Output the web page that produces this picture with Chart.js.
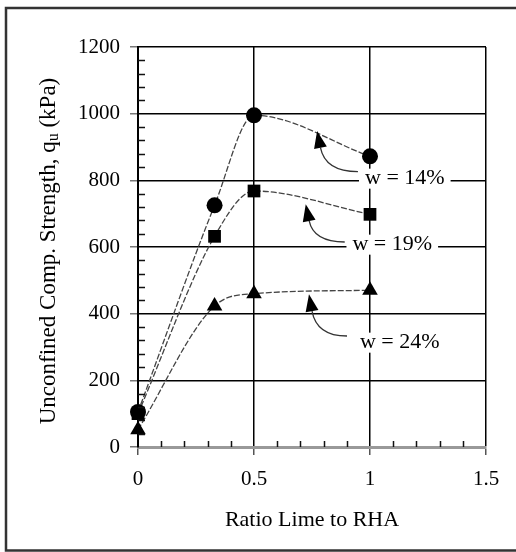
<!DOCTYPE html>
<html>
<head>
<meta charset="utf-8">
<script src="https://cdn.jsdelivr.net/npm/chart.js@4.4.1/dist/chart.umd.min.js"></script>
<style>
  html, body { margin: 0; padding: 0; background: #fff; }
  #wrap { width: 516px; height: 552px; }
</style>
</head>
<body>
<div id="wrap"><canvas id="chart" width="516" height="552"></canvas></div>
<script>
// values
const ratio = [0, 0.33, 0.5, 1];
const w14 = [105, 725, 995, 872];
const w19 = [100, 632, 768, 698];
const w24 = [52, 423, 460, 470];
const xTicks = [0, 0.5, 1, 1.5];
const yTicks = [0, 200, 400, 600, 800, 1000, 1200];

// callouts (data units)
const calloutText = ['w = 14%', 'w = 19%', 'w = 24%'];
const calloutAt = [[1.15, 805], [1.096, 607], [1.128, 313]];
const arrowTail = [[0.948, 826], [0.891, 615], [0.901, 333]];
const arrowTip = [[0.772, 948], [0.723, 728], [0.737, 458]];

const serif = "'Liberation Serif', 'Times New Roman', serif";

function pts(ys) {
  return ratio.map((x, i) => ({ x: x, y: ys[i] }));
}

function series(label, ys, style, r) {
  return {
    label: label,
    data: pts(ys),
    borderColor: '#444',
    borderWidth: 1.3,
    borderDash: [6, 2],
    cubicInterpolationMode: 'monotone',
    pointStyle: style,
    pointRadius: r,
    pointBackgroundColor: '#000',
    pointBorderColor: '#000',
    pointBorderWidth: 0,
    clip: false
  };
}

const decor = {
  id: 'decor',
  afterDraw(chart) {
    const ctx = chart.ctx;
    const xs = chart.scales.x, ys = chart.scales.y;
    const a = chart.chartArea;
    ctx.save();

    // minor ticks, pointing inward
    ctx.strokeStyle = '#111';
    ctx.lineWidth = 1.5;
    ctx.beginPath();
    for (let v = 40; v < 1200; v += 40) {
      if (v % 200 === 0) continue;
      const py = Math.round(ys.getPixelForValue(v)) + 0.5;
      ctx.moveTo(a.left, py);
      ctx.lineTo(a.left + 7, py);
    }
    for (let k = 1; k < 15; k++) {
      if (k % 5 === 0) continue;
      const px = Math.round(xs.getPixelForValue(k / 10)) + 0.5;
      ctx.moveTo(px, a.bottom);
      ctx.lineTo(px, a.bottom - 6);
    }
    ctx.stroke();

    // callout arrows
    ctx.strokeStyle = '#333';
    ctx.fillStyle = '#000';
    ctx.lineWidth = 1.3;
    for (let i = 0; i < calloutText.length; i++) {
      const tx = xs.getPixelForValue(arrowTail[i][0]), ty = ys.getPixelForValue(arrowTail[i][1]);
      const hx = xs.getPixelForValue(arrowTip[i][0]), hy = ys.getPixelForValue(arrowTip[i][1]);
      const cx = hx + (tx - hx) * 0.2, cy = ty;
      const ang = Math.atan2(hy - cy, hx - cx);
      const len = 17, half = 6.5;
      const bx = hx - len * Math.cos(ang), by = hy - len * Math.sin(ang);
      ctx.beginPath();
      ctx.moveTo(tx, ty);
      ctx.quadraticCurveTo(cx, cy, bx, by);
      ctx.stroke();
      ctx.beginPath();
      ctx.moveTo(hx, hy);
      ctx.lineTo(bx + half * Math.sin(ang), by - half * Math.cos(ang));
      ctx.lineTo(bx - half * Math.sin(ang), by + half * Math.cos(ang));
      ctx.closePath();
      ctx.fill();
    }

    // callout labels on white
    ctx.font = '22px ' + serif;
    ctx.textAlign = 'center';
    ctx.textBaseline = 'middle';
    for (let i = 0; i < calloutText.length; i++) {
      const px = xs.getPixelForValue(calloutAt[i][0]);
      const py = ys.getPixelForValue(calloutAt[i][1]);
      const w = ctx.measureText(calloutText[i]).width;
      ctx.fillStyle = '#fff';
      ctx.fillRect(px - w / 2 - 6, py - 10, w + 12, 20);
      ctx.fillStyle = '#000';
      ctx.fillText(calloutText[i], px, py);
    }

    // y title with subscript
    const parts = ['Unconfined Comp. Strength, q', 'u', ' (kPa)'];
    const big = '23px ' + serif, small = '16px ' + serif;
    ctx.font = big;
    const w0 = ctx.measureText(parts[0]).width, w2 = ctx.measureText(parts[2]).width;
    ctx.font = small;
    const w1 = ctx.measureText(parts[1]).width;
    const total = w0 + w1 + w2;
    ctx.translate(49, (a.top + a.bottom) / 2 + 4);
    ctx.rotate(-Math.PI / 2);
    ctx.textAlign = 'left';
    ctx.textBaseline = 'middle';
    ctx.fillStyle = '#000';
    let x0 = -total / 2;
    ctx.font = big;
    ctx.fillText(parts[0], x0, 0);
    ctx.font = small;
    ctx.fillText(parts[1], x0 + w0, 5);
    ctx.font = big;
    ctx.fillText(parts[2], x0 + w0 + w1, 0);
    ctx.setTransform(1, 0, 0, 1, 0, 0);

    // outer frame
    ctx.strokeStyle = '#333';
    ctx.lineWidth = 2.5;
    ctx.beginPath();
    ctx.moveTo(516, 8);
    ctx.lineTo(6, 8);
    ctx.lineTo(6, 550.5);
    ctx.lineTo(516, 550.5);
    ctx.stroke();
    ctx.restore();
  }
};

const gridCol = c => (c.tick && c.tick.value === 0 ? 'rgba(0,0,0,0)' : '#000');

new Chart(document.getElementById('chart'), {
  type: 'line',
  data: {
    datasets: [
      series('w = 14%', w14, 'circle', 8),
      series('w = 19%', w19, 'rect', 9),
      series('w = 24%', w24, 'triangle', 9)
    ]
  },
  options: {
    responsive: false,
    animation: false,
    layout: { padding: { left: 0, right: 30, top: 47, bottom: 0 } },
    plugins: {
      legend: { display: false },
      tooltip: { enabled: false }
    },
    scales: {
      x: {
        type: 'linear',
        min: 0,
        max: 1.5,
        afterBuildTicks: s => { s.ticks = xTicks.map(v => ({ value: v })); },
        afterFit: s => { s.height = 105; },
        grid: { color: gridCol, lineWidth: 1.5, tickLength: 8, tickColor: '#555' },
        border: { color: '#999', width: 3 },
        ticks: {
          color: '#000',
          font: { family: serif, size: 21 },
          padding: 12,
          maxRotation: 0,
          callback: v => String(v)
        },
        title: {
          display: true,
          text: 'Ratio Lime to RHA',
          color: '#000',
          font: { family: serif, size: 22 },
          padding: { top: 0, bottom: 19 }
        }
      },
      y: {
        min: 0,
        max: 1200,
        afterBuildTicks: s => { s.ticks = yTicks.map(v => ({ value: v })); },
        afterFit: s => { s.width = 138; },
        grid: { color: gridCol, lineWidth: 1.5, tickLength: 8, tickColor: '#777' },
        border: { color: '#000', width: 2 },
        ticks: {
          color: '#000',
          font: { family: serif, size: 21 },
          padding: 10,
          callback: v => String(v)
        }
      }
    }
  },
  plugins: [decor]
});
</script>
</body>
</html>
